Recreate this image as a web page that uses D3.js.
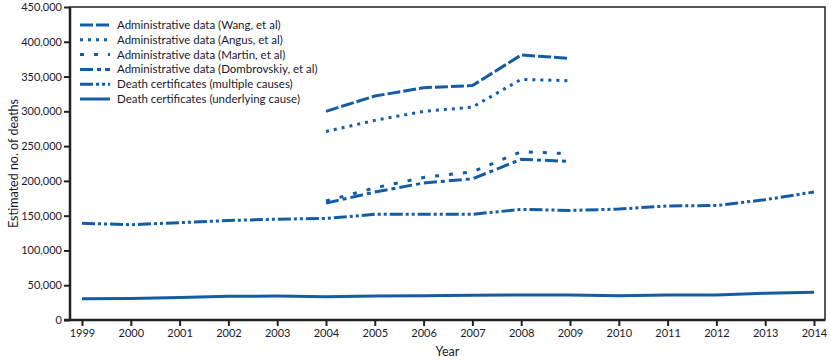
<!DOCTYPE html>
<html>
<head>
<meta charset="utf-8">
<script src="https://cdn.jsdelivr.net/npm/d3@7"></script>
<style>
  body { margin: 0; background: #fff; }
  text { font-family: Lato, "Open Sans", sans-serif; fill: #1a1a2e; }
</style>
</head>
<body>
<svg id="chart" width="831" height="363"></svg>
<script>
var years = [1999, 2000, 2001, 2002, 2003, 2004, 2005, 2006, 2007, 2008, 2009, 2010, 2011, 2012, 2013, 2014];
var adminYears = [2004, 2005, 2006, 2007, 2008, 2009];
var wang = [300000, 322000, 334000, 337000, 381000, 376000];
var angus = [271000, 287000, 300000, 306000, 346000, 344000];
var martin = [171000, 190000, 205000, 213000, 242000, 239000];
var dombrovskiy = [168000, 184000, 197000, 203000, 231000, 228000];
var multipleCauses = [139000, 137000, 140000, 143000, 145000, 146000, 152000, 152000, 152000, 159000, 157500, 159500, 164000, 164500, 173000, 184000];
var underlyingCause = [30500, 31000, 32500, 34000, 34500, 33500, 34500, 35000, 35500, 36000, 36000, 35000, 36000, 36000, 38500, 40000];
var yTicks = [0, 50000, 100000, 150000, 200000, 250000, 300000, 350000, 400000, 450000];

var series = [
  {name: "Administrative data (Wang, et al)", x: adminYears, y: wang, dash: "13,3"},
  {name: "Administrative data (Angus, et al)", x: adminYears, y: angus, dash: "3,5"},
  {name: "Administrative data (Martin, et al)", x: adminYears, y: martin, dash: "4,10"},
  {name: "Administrative data (Dombrovskiy, et al)", x: adminYears, y: dombrovskiy, dash: "13,4,4,4"},
  {name: "Death certificates (multiple causes)", x: years, y: multipleCauses, dash: "13,3,3,3,3,3"},
  {name: "Death certificates (underlying cause)", x: years, y: underlyingCause, dash: null}
];

var lineColor = "#135ca6";
var margin = {l: 70, t: 7, r: 6, b: 43};
var svg = d3.select("#chart");
var W = +svg.attr("width"), H = +svg.attr("height");
var plotW = W - margin.l - margin.r, plotH = H - margin.t - margin.b;

var x = d3.scaleLinear().domain([1999, 2014]).range([12, 744]);
var y = d3.scaleLinear().domain([0, 450000]).range([plotH, 0]);

var g = svg.append("g").attr("transform", "translate(" + margin.l + "," + margin.t + ")");

// frame
g.append("rect")
  .attr("x", 0).attr("y", 0)
  .attr("width", plotW).attr("height", plotH)
  .attr("fill", "none").attr("stroke", "#222").attr("stroke-width", 1.5);

var yAxis = g.append("g")
  .call(d3.axisLeft(y).tickValues(yTicks).tickSize(6).tickPadding(2).tickFormat(d3.format(",")));
var xAxis = g.append("g")
  .attr("transform", "translate(0," + plotH + ")")
  .call(d3.axisBottom(x).tickValues(years).tickSize(6).tickPadding(3).tickFormat(d3.format("d")));

[yAxis, xAxis].forEach(function(a){
  a.select(".domain").attr("stroke", "#222").attr("stroke-width", 2.5);
  a.selectAll(".tick line").attr("stroke", "#222").attr("stroke-width", 2);
  a.selectAll(".tick text").style("font-size", "11px").attr("fill", "#1a1a2e");
});
yAxis.select(".domain").attr("d", "M0," + (plotH + 1) + "V0");
xAxis.select(".domain").attr("d", "M-6,0H" + plotW);

var line = d3.line()
  .x(function(d){ return x(d[0]); })
  .y(function(d){ return y(d[1]); });

series.slice().reverse().forEach(function(s){
  var pts = s.x.map(function(yr, i){ return [yr, s.y[i]]; });
  g.append("path")
    .datum(pts)
    .attr("d", line)
    .attr("fill", "none")
    .attr("stroke", lineColor)
    .attr("stroke-width", 3)
    .attr("stroke-dasharray", s.dash);
});

// legend
var legend = g.append("g").attr("transform", "translate(10,18)");
series.forEach(function(s, i){
  var row = legend.append("g").attr("transform", "translate(0," + (i * 14.8) + ")");
  row.append("line")
    .attr("x1", 0).attr("x2", 30).attr("y1", 0).attr("y2", 0)
    .attr("stroke", lineColor).attr("stroke-width", 3)
    .attr("stroke-dasharray", s.dash);
  row.append("text")
    .attr("x", 37).attr("y", 4)
    .style("font-size", "11.5px")
    .text(s.name);
});

// axis titles
svg.append("text")
  .attr("transform", "translate(18," + (margin.t + plotH / 2) + ") rotate(-90)")
  .attr("text-anchor", "middle")
  .style("font-size", "12.5px")
  .text("Estimated no. of deaths");
svg.append("text")
  .attr("x", margin.l + plotW / 2)
  .attr("y", 356)
  .attr("text-anchor", "middle")
  .style("font-size", "12.5px")
  .text("Year");
</script>
</body>
</html>
